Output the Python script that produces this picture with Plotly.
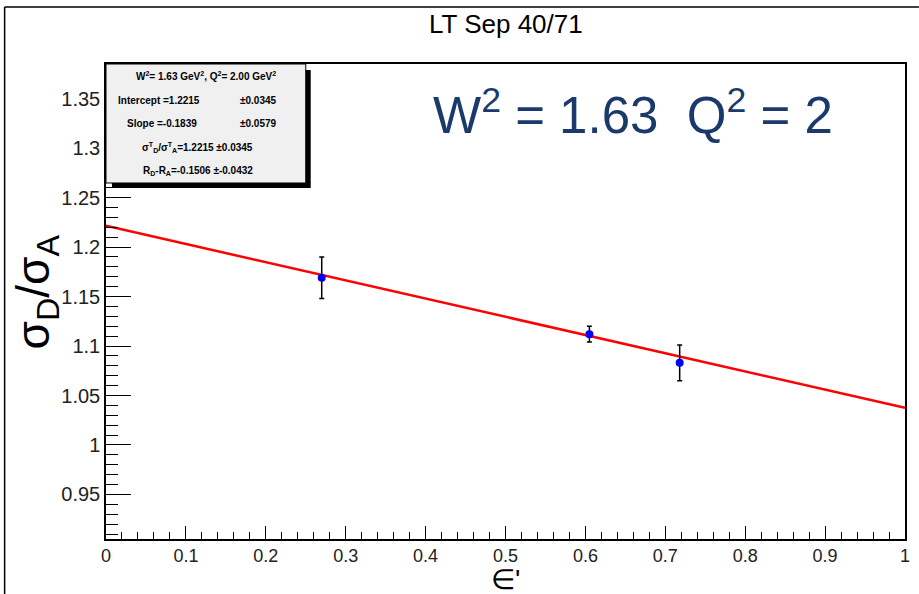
import plotly.graph_objects as go

# ---- data ----
eps_prime = [0.27, 0.605, 0.718]
sigma_ratio = [1.169, 1.112, 1.083]
sigma_err = [0.021, 0.008, 0.018]

fit_intercept = 1.2215
fit_slope = -0.1839
fit_x = [0.0, 1.0]

x_tick_vals = [0, 0.1, 0.2, 0.3, 0.4, 0.5, 0.6, 0.7, 0.8, 0.9, 1.0]
x_tick_text = ["0", "0.1", "0.2", "0.3", "0.4", "0.5", "0.6", "0.7", "0.8", "0.9", "1"]
y_tick_vals = [0.95, 1.0, 1.05, 1.1, 1.15, 1.2, 1.25, 1.3, 1.35]
y_tick_text = ["0.95", "1", "1.05", "1.1", "1.15", "1.2", "1.25", "1.3", "1.35"]

stats_lines = [
    "W<sup>2</sup>= 1.63 GeV<sup>2</sup>, Q<sup>2</sup>= 2.00 GeV<sup>2</sup>",
    "σ<sup>T</sup><sub>D</sub>/σ<sup>T</sup><sub>A</sub>=1.2215 ±0.0345",
    "R<sub>D</sub>-R<sub>A</sub>=-0.1506 ±-0.0432",
]

W = 919
H = 594
L, R, T, B = 106, 9, 64, 55
PW = W - L - R
PH = H - T - B


def px(xp):
    return (xp - L) / PW


def py(yp):
    return 1 - (yp - T) / PH


fig = go.Figure()

fig.add_trace(go.Scatter(
    x=fit_x,
    y=[fit_intercept + fit_slope * v for v in fit_x],
    mode="lines",
    line=dict(color="#ff0000", width=2.5),
    showlegend=False,
    hoverinfo="skip",
))

fig.add_trace(go.Scatter(
    x=eps_prime,
    y=sigma_ratio,
    mode="markers",
    marker=dict(color="#0000ff", size=8),
    error_y=dict(type="data", array=sigma_err, color="#000000", thickness=1.5, width=2.5),
    showlegend=False,
))

font_main = "Liberation Sans, Arial, Helvetica, sans-serif"

fig.update_layout(
    width=W,
    height=H,
    margin=dict(l=L, r=R, t=T, b=B),
    paper_bgcolor="white",
    plot_bgcolor="white",
    font=dict(family=font_main, color="#000000"),
    xaxis=dict(
        range=[0, 1],
        tickmode="array",
        tickvals=x_tick_vals,
        ticktext=x_tick_text,
        ticks="inside",
        ticklen=13,
        tickwidth=1,
        tickcolor="#000",
        minor=dict(ticks="inside", ticklen=7, dtick=0.02, tickcolor="#000", tickwidth=1),
        showgrid=False,
        zeroline=False,
        showline=True,
        linecolor="#000",
        linewidth=1.5,
        mirror=True,
        tickfont=dict(size=18, color="#222"),
    ),
    yaxis=dict(
        range=[0.905, 1.385],
        tickmode="array",
        tickvals=y_tick_vals,
        ticktext=y_tick_text,
        ticks="inside",
        ticklen=25,
        tickwidth=1,
        tickcolor="#000",
        minor=dict(ticks="inside", ticklen=12, dtick=0.01, tickcolor="#000", tickwidth=1),
        showgrid=False,
        zeroline=False,
        showline=True,
        linecolor="#000",
        linewidth=1.5,
        mirror=True,
        tickfont=dict(size=20, color="#222"),
    ),
)

shapes = [
    # outer canvas border (top and left)
    dict(type="line", xref="paper", yref="paper", x0=px(4), x1=px(W + 5), y0=py(7), y1=py(7),
         line=dict(color="#000", width=1.5), layer="above"),
    dict(type="line", xref="paper", yref="paper", x0=px(4), x1=px(4), y0=py(7), y1=py(H + 5),
         line=dict(color="#000", width=1.5), layer="above"),
    # stats box shadow
    dict(type="rect", xref="paper", yref="paper", x0=px(112), x1=px(312), y0=py(188), y1=py(70),
         fillcolor="#000", line=dict(width=0), layer="above"),
    # stats box
    dict(type="rect", xref="paper", yref="paper", x0=px(106), x1=px(307), y0=py(183), y1=py(64),
         fillcolor="#f0f0f0", line=dict(color="#000", width=1), layer="above"),
]
fig.update_layout(shapes=shapes)


def add_text(text, xp, yp, size, color="#000", xanchor="center", angle=0):
    return dict(text=text, x=px(xp), y=py(yp), xref="paper", yref="paper",
                xanchor=xanchor, yanchor="middle", showarrow=False, textangle=angle,
                borderpad=0,
                font=dict(size=size, color=color, family=font_main))


ann = [
    add_text("LT Sep 40/71", 509, 24, 26),
    add_text("W<sup>2</sup> = 1.63  Q<sup>2</sup> = 2", 636, 112, 51, color="#1a3a6b"),
    add_text("σ<sub>D</sub>/σ<sub>A</sub>", 36, 292, 46, angle=-90),
    add_text("∈'", 508, 579, 28),
    add_text("<b>" + stats_lines[0] + "</b>", 207, 76, 10),
    add_text("<b>Intercept =1.2215</b>", 117, 100, 10, xanchor="left"),
    add_text("<b>±0.0345</b>", 240, 100, 10, xanchor="left"),
    add_text("<b>Slope =-0.1839</b>", 126, 124, 10, xanchor="left"),
    add_text("<b>±0.0579</b>", 240, 124, 10, xanchor="left"),
    add_text("<b>" + stats_lines[1] + "</b>", 198, 147, 10),
    add_text("<b>" + stats_lines[2] + "</b>", 199, 171, 10),
]
fig.update_layout(annotations=ann)

fig.write_html("out.html", config={"displayModeBar": False},
               post_script="document.body.style.margin='0';")
